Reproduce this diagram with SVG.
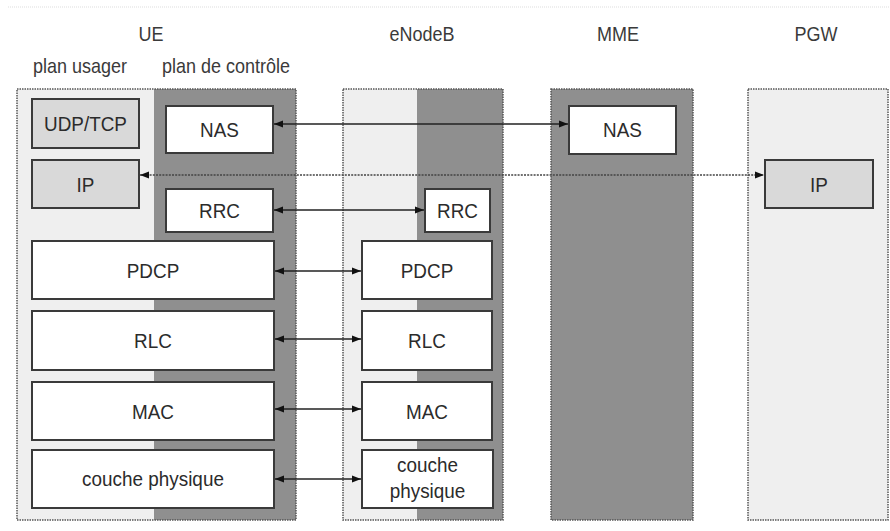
<svg xmlns="http://www.w3.org/2000/svg" width="890" height="531" viewBox="0 0 890 531">
<style>
.light{fill:#efefef}
.dark{fill:#8f8f8f}
.frame{fill:none;stroke:#555;stroke-width:1.5;stroke-dasharray:1.5,1}
.box{fill:#fff;stroke:#3a3a3a;stroke-width:2}
.gbox{fill:#d9d9d9;stroke:#3a3a3a;stroke-width:2}
.t{font-family:"Liberation Sans",Arial,sans-serif;font-size:21px;fill:#2b2b2b;text-anchor:middle}
.h{font-family:"Liberation Sans",Arial,sans-serif;font-size:20px;fill:#3a3a3a;text-anchor:middle}
.c{stroke:#222;stroke-width:1.5;fill:none;marker-start:url(#ah);marker-end:url(#ah)}
.dot{stroke-dasharray:2,1.2;stroke:#444}
</style>
<defs>
<marker id="ah" markerUnits="userSpaceOnUse" markerWidth="10" markerHeight="8" refX="9" refY="4" orient="auto-start-reverse">
<path d="M0,0.5 L9,4 L0,7.5 z" fill="#111"/>
</marker>
</defs>
<rect width="890" height="531" fill="#fff"/>
<line x1="8" y1="7" x2="890" y2="7" stroke="#ddd" stroke-width="1" stroke-dasharray="1,1"/>

<g id="labels">
<text class="h" transform="translate(151,41) scale(0.9,1)">UE</text>
<text class="h" transform="translate(80,73) scale(0.9,1)">plan usager</text>
<text class="h" transform="translate(226,73) scale(0.9,1)">plan de contrôle</text>
<text class="h" transform="translate(422,41) scale(0.9,1)">eNodeB</text>
<text class="h" transform="translate(618,41) scale(0.9,1)">MME</text>
<text class="h" transform="translate(816,41) scale(0.9,1)">PGW</text>
</g>

<g id="UE">
<rect class="light" x="17" y="89" width="137" height="431"/>
<rect class="dark" x="154" y="89" width="142" height="431"/>
<rect class="frame" x="17" y="89" width="279" height="431"/>
</g>
<g id="eNodeB">
<rect class="light" x="343" y="89" width="74" height="431"/>
<rect class="dark" x="417" y="89" width="86" height="431"/>
<rect class="frame" x="343" y="89" width="160" height="431"/>
</g>
<g id="MME">
<rect class="dark" x="551" y="89" width="142" height="431"/>
<rect class="frame" x="551" y="89" width="142" height="431"/>
</g>
<g id="PGW">
<rect class="light" x="748" y="89" width="140" height="431"/>
<rect class="frame" x="748" y="89" width="140" height="431"/>
</g>

<g id="connectors">
<line class="c" x1="274" y1="124" x2="568" y2="124"/>
<line class="c dot" x1="140" y1="175" x2="764" y2="175"/>
<line class="c" x1="274" y1="210" x2="424" y2="210"/>
<line class="c" x1="275" y1="271" x2="361" y2="271"/>
<line class="c" x1="275" y1="339" x2="361" y2="339"/>
<line class="c" x1="275" y1="409" x2="361" y2="409"/>
<line class="c" x1="275" y1="479" x2="361" y2="479"/>
</g>

<g id="ue-udptcp"><rect class="gbox" x="32" y="99" width="107" height="49"/><text class="t" transform="translate(85.5,131) scale(0.9,1)">UDP/TCP</text></g>
<g id="ue-nas"><rect class="box" x="166" y="106" width="107" height="47"/><text class="t" transform="translate(219.5,137) scale(0.9,1)">NAS</text></g>
<g id="ue-ip"><rect class="gbox" x="32" y="160" width="107" height="48"/><text class="t" transform="translate(85.5,191.5) scale(0.9,1)">IP</text></g>
<g id="ue-rrc"><rect class="box" x="166" y="189" width="107" height="43"/><text class="t" transform="translate(219.5,218) scale(0.9,1)">RRC</text></g>
<g id="ue-pdcp"><rect class="box" x="32" y="241" width="242" height="58"/><text class="t" transform="translate(153,277.5) scale(0.9,1)">PDCP</text></g>
<g id="ue-rlc"><rect class="box" x="32" y="311" width="242" height="59"/><text class="t" transform="translate(153,348) scale(0.9,1)">RLC</text></g>
<g id="ue-mac"><rect class="box" x="32" y="382" width="242" height="58"/><text class="t" transform="translate(153,418.5) scale(0.9,1)">MAC</text></g>
<g id="ue-phy"><rect class="box" x="32" y="450" width="242" height="58"/><text class="t" transform="translate(153,486) scale(0.9,1)">couche physique</text></g>

<g id="enb-rrc"><rect class="box" x="425" y="189" width="65" height="43"/><text class="t" transform="translate(457.5,218) scale(0.9,1)">RRC</text></g>
<g id="enb-pdcp"><rect class="box" x="362" y="241" width="130" height="58"/><text class="t" transform="translate(427,277.5) scale(0.9,1)">PDCP</text></g>
<g id="enb-rlc"><rect class="box" x="362" y="311" width="130" height="59"/><text class="t" transform="translate(427,348) scale(0.9,1)">RLC</text></g>
<g id="enb-mac"><rect class="box" x="362" y="382" width="130" height="58"/><text class="t" transform="translate(427,418.5) scale(0.9,1)">MAC</text></g>
<g id="enb-phy"><rect class="box" x="362" y="450" width="131" height="58"/><text class="t" transform="translate(427.5,472) scale(0.9,1)">couche</text><text class="t" transform="translate(427.5,498) scale(0.9,1)">physique</text></g>

<g id="mme-nas"><rect class="box" x="569" y="106" width="107" height="48"/><text class="t" transform="translate(622.5,137) scale(0.9,1)">NAS</text></g>
<g id="pgw-ip"><rect class="gbox" x="765" y="160" width="108" height="48"/><text class="t" transform="translate(819,191.5) scale(0.9,1)">IP</text></g>
</svg>
